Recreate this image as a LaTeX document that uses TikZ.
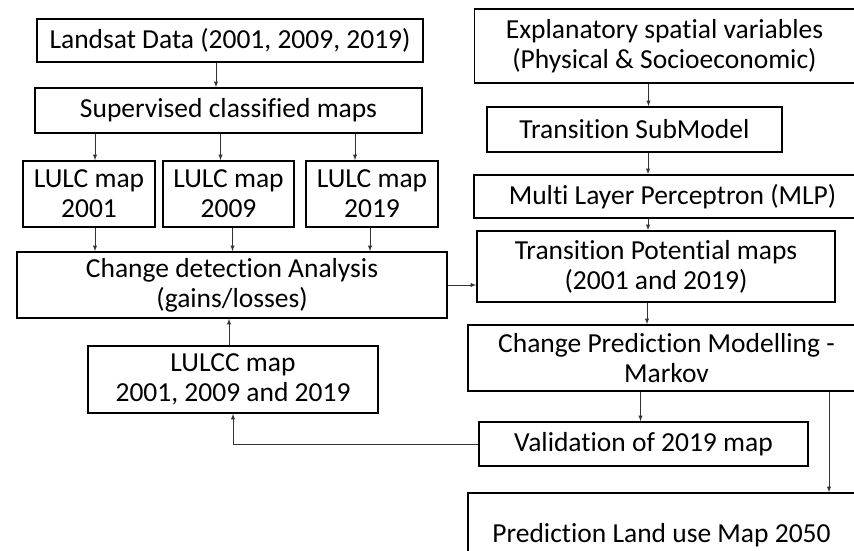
\documentclass[tikz,border=0pt]{standalone}
\usepackage{fontspec}
\setmainfont{Carlito}[Ligatures={NoCommon}]
\usetikzlibrary{arrows}
\usepackage{xcolor}

\tikzset{
  blk/.style={draw, line width=1.6pt, align=center, inner sep=0pt,
    font=\fontsize{27.5}{30}\selectfont},
  arr/.style={-latex, line width=0.9pt, draw=black!80}
}

\begin{document}
\begin{tikzpicture}[x=1pt,y=-1pt]
            \useasboundingbox (0,0) rectangle (854,551);
            \clip (0,0) rectangle (854,551);
            % left column
            \node[blk, minimum width=386, minimum height=43] (land) at (230,40.5)
                {Landsat Data (2001, 2009, 2019)};
            \node[blk, minimum width=387, minimum height=45] (sup) at (228.5,110.5)
                {Supervised classified maps};
            \node[blk, minimum width=132, minimum height=66] (lulcA) at (89,194)
                {LULC map\\2001};
            \node[blk, minimum width=131, minimum height=66] (lulcB) at (228.5,194)
                {LULC map\\2009};
            \node[blk, minimum width=132, minimum height=66] (lulcC) at (372,194)
                {LULC map\\2019};
            \node[blk, minimum width=430, minimum height=66] (cd) at (232,285)
                {Change detection Analysis\\(gains/losses)};
            \node[blk, minimum width=290, minimum height=67] (lulcc) at (233,379.5)
                {LULCC map\\2001, 2009 and 2019};
            % right column
            \node[blk, minimum width=380, minimum height=74] (expl) at (664.5,46)
                {Explanatory spatial variables\\(Physical \& Socioeconomic)};
            \node[blk, minimum width=295, minimum height=45] (sub) at (634.5,129.5)
                {Transition SubModel};
            \node[blk, minimum width=397, minimum height=43] (mlp) at (672.5,196.5)
                {Multi Layer Perceptron (MLP)};
            \node[blk, minimum width=358, minimum height=71] (tp) at (656,266.5)
                {Transition Potential maps\\(2001 and 2019)};
            \node[blk, minimum width=397, minimum height=66] (cpm) at (666.5,358)
                {Change Prediction Modelling -\\Markov};
            \node[blk, minimum width=329, minimum height=44] (val) at (643.5,444)
                {Validation of 2019 map};
            \node[blk, minimum width=387, minimum height=84] (pred) at (661.5,535)
                {Prediction Land use Map 2050};
            % connectors
            \draw[arr] ([xshift=-14]land.south) -- ([xshift=-14]land.south |- sup.north);
            \foreach \b/\dx in {lulcA/6,lulcB/-8,lulcC/-17}
                \draw[arr] ([xshift=\dx]\b.north |- sup.south) -- ([xshift=\dx]\b.north);
            \foreach \b/\dx in {lulcA/6,lulcB/4,lulcC/-2}
                \draw[arr] ([xshift=\dx]\b.south) -- ([xshift=\dx]\b.south |- cd.north);
            \draw[arr] (cd.east) -- (cd.east -| tp.west);
            \draw[arr] ([xshift=-4]lulcc.north) -- ([xshift=-4]lulcc.north |- cd.south);
            \draw[arr] (val.west) -| (lulcc.south);
            \draw[arr] ([xshift=-16]expl.south) -- ([xshift=-16]expl.south |- sub.north);
            \draw[arr] ([xshift=13.5]sub.south) -- ([xshift=13.5]sub.south |- mlp.north);
            \draw[arr] ([xshift=-8]tp.north |- mlp.south) -- ([xshift=-8]tp.north);
            \draw[arr] ([xshift=-9]tp.south) -- ([xshift=-9]tp.south |- cpm.north);
            \draw[arr] ([xshift=-3]val.north |- cpm.south) -- ([xshift=-3]val.north);
            \draw[arr] ([xshift=162.5]cpm.south) -- ([xshift=162.5]cpm.south |- pred.north);
        \end{tikzpicture}
\end{document}
